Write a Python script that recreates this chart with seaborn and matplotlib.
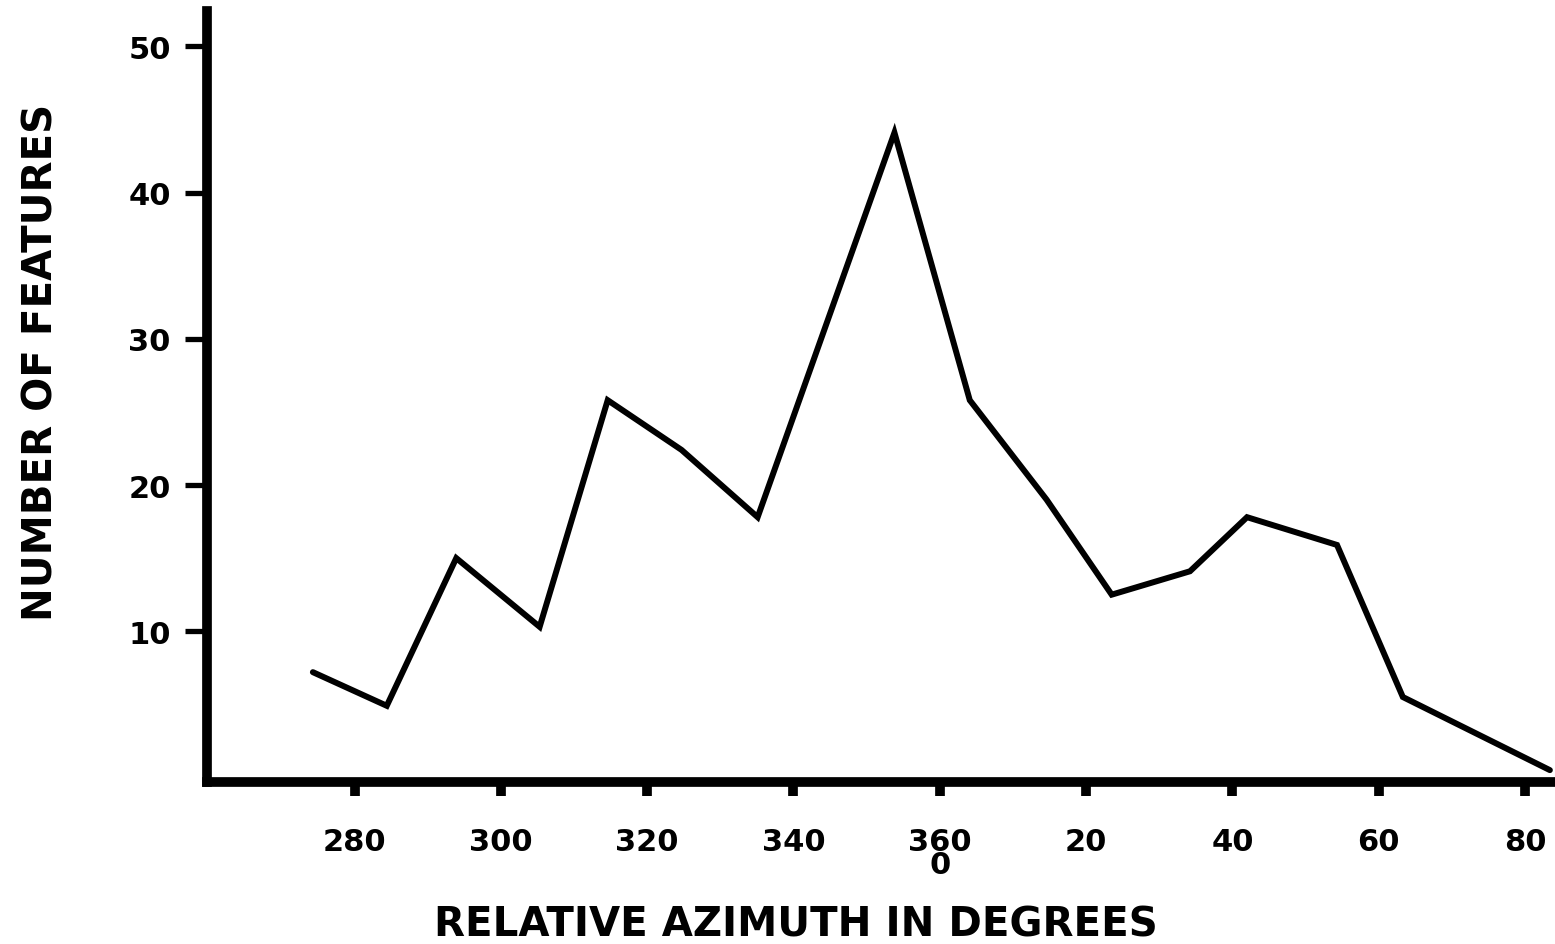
import pandas as pd
import seaborn as sns
import matplotlib.pyplot as plt

# Relative azimuth (degrees, continuing past 360) and number of features
azimuth = [274.3, 284.4, 293.9, 305.3, 314.6, 324.7, 335.1, 353.8, 364.1,
           374.6, 383.5, 394.2, 402.0, 414.3, 423.3, 443.4]
features = [7.2, 4.9, 15.0, 10.3, 25.8, 22.4, 17.8, 44.1, 25.8,
            19.0, 12.5, 14.1, 17.8, 15.9, 5.5, 0.5]

x_ticks = [280, 300, 320, 340, 360, 380, 400, 420, 440]
x_tick_labels = ["280", "300", "320", "340", "360\n0", "20", "40", "60", "80"]
y_ticks = [10, 20, 30, 40, 50]

df = pd.DataFrame({"azimuth": azimuth, "features": features})

sns.set_style("white")
plt.rcParams['font.family'] = ['DejaVu Sans']
plt.rcParams['text.color'] = 'black'
plt.rcParams['axes.labelcolor'] = 'black'
plt.rcParams['xtick.color'] = 'black'
plt.rcParams['ytick.color'] = 'black'

fig = plt.figure(figsize=(15.55, 9.45), dpi=100)
ax = fig.add_axes([0.133, 0.171, 0.867, 0.816])

sns.lineplot(data=df, x="azimuth", y="features", ax=ax, color="black",
             linewidth=4.3, solid_joinstyle="miter")

ax.set_xlim(259.8, 444.1)
ax.set_ylim(-0.34, 52.4)

for side in ["top", "right"]:
    ax.spines[side].set_visible(False)
for side in ["left", "bottom"]:
    ax.spines[side].set_linewidth(7)
    ax.spines[side].set_color("black")

ax.set_xticks(x_ticks)
ax.set_xticklabels(x_tick_labels, fontsize=22, fontweight="bold", linespacing=0.75)
ax.set_yticks(y_ticks)
ax.set_yticklabels([str(v) for v in y_ticks], fontsize=22, fontweight="bold")
ax.tick_params(axis="x", direction="out", length=10, width=7, pad=22, bottom=True)
ax.tick_params(axis="y", direction="out", length=16, width=3.8, pad=10, left=True)

ax.set_xlabel("RELATIVE AZIMUTH IN DEGREES", fontsize=29, fontweight="bold", labelpad=18)
ax.set_ylabel("NUMBER OF FEATURES", fontsize=29, fontweight="bold", labelpad=48)
ax.xaxis.label.set_x(0.437)
ax.yaxis.label.set_y(0.546)

fig.savefig("out.png", dpi=100)
